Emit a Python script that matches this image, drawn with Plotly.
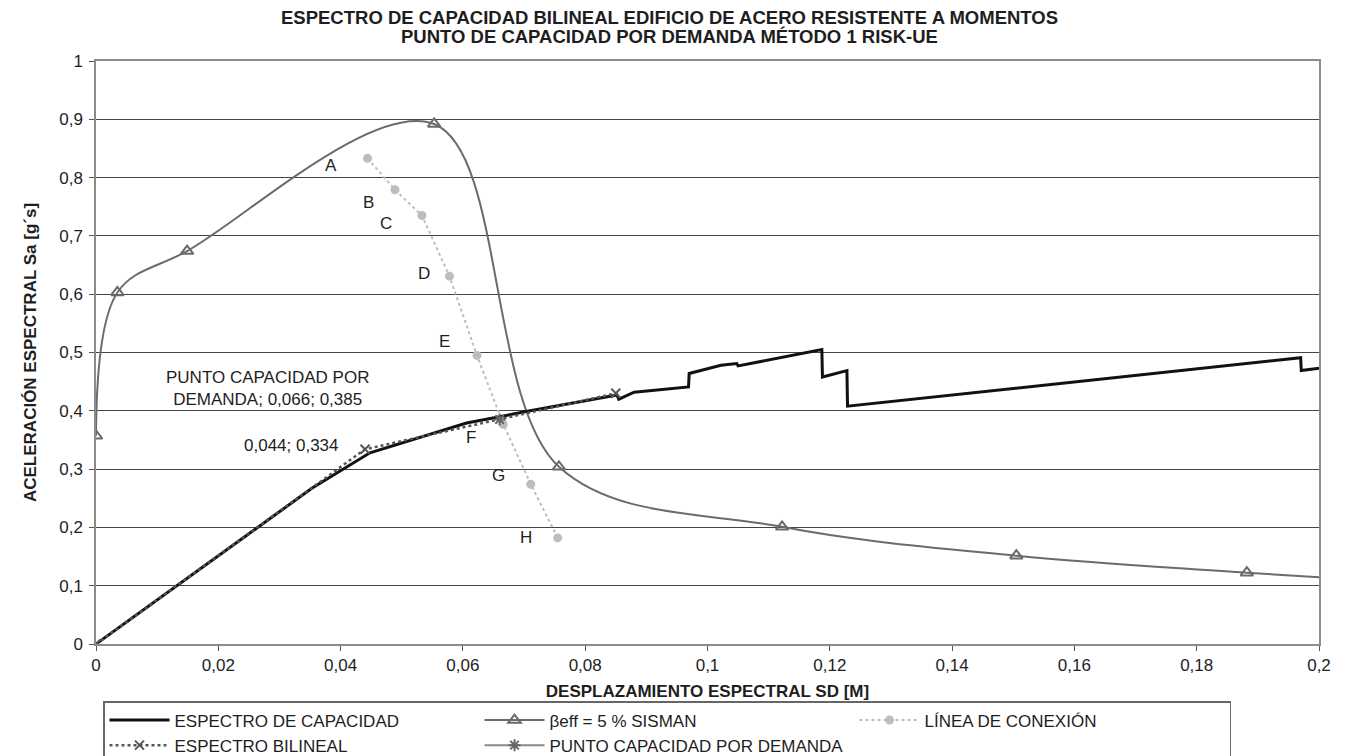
import plotly.graph_objects as go

# ---------------- data ----------------
cap_x = [0, 0.0353, 0.0448, 0.0606, 0.0710, 0.0823, 0.0852, 0.0855, 0.0880, 0.0969, 0.0970,
         0.1022, 0.1048, 0.1050, 0.1187, 0.1188, 0.1228, 0.1229, 0.1970, 0.1971, 0.2000]
cap_y = [0, 0.267, 0.328, 0.379, 0.400, 0.422, 0.427, 0.420, 0.432, 0.441, 0.464,
         0.478, 0.481, 0.477, 0.505, 0.458, 0.469, 0.408, 0.491, 0.469, 0.473]

sis_x = [0, 0.0035, 0.0149, 0.0553, 0.0757, 0.1122, 0.1505, 0.1882, 0.2255]
sis_y = [0.357, 0.603, 0.674, 0.892, 0.304, 0.201, 0.1515, 0.1223, 0.097]

con_x = [0.0444, 0.0489, 0.0533, 0.0578, 0.0623, 0.0666, 0.0711, 0.0755]
con_y = [0.833, 0.779, 0.735, 0.631, 0.495, 0.377, 0.274, 0.182]
con_labels = ["A", "B", "C", "D", "E", "F", "G", "H"]

bil_x = [0, 0.044, 0.085]
bil_y = [0, 0.334, 0.430]
bil_label = "0,044; 0,334"

pcd_x = [0.066]
pcd_y = [0.385]
pcd_label = "PUNTO CAPACIDAD POR<br>DEMANDA; 0,066; 0,385"

x_ticks = [0, 0.02, 0.04, 0.06, 0.08, 0.1, 0.12, 0.14, 0.16, 0.18, 0.2]
y_ticks = [0, 0.1, 0.2, 0.3, 0.4, 0.5, 0.6, 0.7, 0.8, 0.9, 1.0]

title_1 = "ESPECTRO DE CAPACIDAD BILINEAL EDIFICIO DE ACERO RESISTENTE A MOMENTOS"
title_2 = "PUNTO DE CAPACIDAD POR DEMANDA MÉTODO 1 RISK-UE"

# label offsets (px) for the connection letters
lab_dx = [-37, -27, -36, -25, -32, -32, -32, -32]
lab_dy = [-7, -13, -8, 3, 14, -13, 9, 0]

FONT = "Liberation Sans, Arial, sans-serif"
TXT = "#1e1e1e"

# the page body adds an 8 px offset; the figure is sized to fit inside the window
W, H = 1340, 748

fig = go.Figure()

fig.add_trace(go.Scatter(
    x=sis_x, y=sis_y, mode="lines+markers", name="βeff = 5 % SISMAN",
    line=dict(color="#6b6b6b", width=2, shape="spline", smoothing=1.0),
    marker=dict(symbol="triangle-up-open", size=11, color="#6b6b6b", line=dict(width=2)),
    legendrank=2))

fig.add_trace(go.Scatter(
    x=con_x, y=con_y, mode="lines+markers", name="LÍNEA DE CONEXIÓN",
    line=dict(color="#bdbdbd", width=2, dash="dot"),
    marker=dict(symbol="circle", size=9, color="#bdbdbd"),
    legendrank=3))

fig.add_trace(go.Scatter(
    x=cap_x, y=cap_y, mode="lines", name="ESPECTRO DE CAPACIDAD",
    line=dict(color="#111111", width=3),
    legendrank=1))

fig.add_trace(go.Scatter(
    x=bil_x, y=bil_y, mode="lines+markers", name="ESPECTRO BILINEAL",
    line=dict(color="#555555", width=2.5, dash="dot"),
    marker=dict(symbol="x-thin-open", size=9, color="#555555", line=dict(width=2, color="#555555")),
    legendrank=4))

fig.add_trace(go.Scatter(
    x=pcd_x, y=pcd_y, mode="lines+markers", name="PUNTO CAPACIDAD POR DEMANDA",
    line=dict(color="#8a8a8a", width=2),
    marker=dict(symbol="asterisk-open", size=10, color="#666666", line=dict(width=2, color="#666666")),
    legendrank=5))

annotations = []
for i, lab in enumerate(con_labels):
    annotations.append(dict(x=con_x[i], y=con_y[i], text=lab, showarrow=False,
                            xshift=lab_dx[i], yshift=lab_dy[i],
                            font=dict(family=FONT, size=17, color=TXT)))
annotations.append(dict(x=bil_x[1], y=bil_y[1], text=bil_label, showarrow=False,
                        xshift=-74, yshift=4, font=dict(family=FONT, size=17, color=TXT)))
annotations.append(dict(x=pcd_x[0], y=pcd_y[0], text=pcd_label, showarrow=False,
                        xshift=-232, yshift=31, align="center",
                        font=dict(family=FONT, size=17, color=TXT)))
# chart title (two lines)
annotations.append(dict(xref="paper", yref="paper", x=0.469, y=1.0738, text="<b>" + title_1 + "</b>",
                        showarrow=False, xanchor="center", yanchor="middle",
                        font=dict(family=FONT, size=18.5, color=TXT)))
annotations.append(dict(xref="paper", yref="paper", x=0.469, y=1.0412, text="<b>" + title_2 + "</b>",
                        showarrow=False, xanchor="center", yanchor="middle",
                        font=dict(family=FONT, size=18.5, color=TXT)))

axis_common = dict(
    showline=True, linecolor="#8c8c8c", linewidth=1.5, mirror=True,
    ticks="outside", ticklen=5, tickcolor="#555", tickwidth=1,
    tickfont=dict(family=FONT, size=17, color=TXT),
    zeroline=False, automargin=False,
)

fig.update_layout(
    width=W, height=H,
    paper_bgcolor="white", plot_bgcolor="white",
    separators=",.",
    margin=dict(l=88, r=29, t=53, b=112, autoexpand=False),
    font=dict(family=FONT, size=17, color=TXT),
    xaxis=dict(range=[0, 0.2], tickvals=x_ticks, showgrid=False,
               title=dict(text="<b>DESPLAZAMIENTO ESPECTRAL SD [M]</b>", standoff=11,
                          font=dict(family=FONT, size=17, color=TXT)),
               **axis_common),
    yaxis=dict(range=[0, 1], tickvals=y_ticks, showgrid=True, gridcolor="#444", gridwidth=1,
               ticklabelstandoff=3,
               title=dict(text="<b>ACELERACIÓN ESPECTRAL Sa [g´s]</b>", standoff=18,
                          font=dict(family=FONT, size=17, color=TXT)),
               **axis_common),
    legend=dict(orientation="h", xref="container", yref="container",
                x=95 / W, xanchor="left", y=1 - 693 / H, yanchor="top",
                bordercolor="#666", borderwidth=1.5, bgcolor="white",
                font=dict(family=FONT, size=17, color=TXT),
                itemwidth=60, entrywidth=300, entrywidthmode="pixels",
                tracegroupgap=0, itemclick=False),
    annotations=annotations,
    showlegend=True,
)

fig.write_html("out.html")
